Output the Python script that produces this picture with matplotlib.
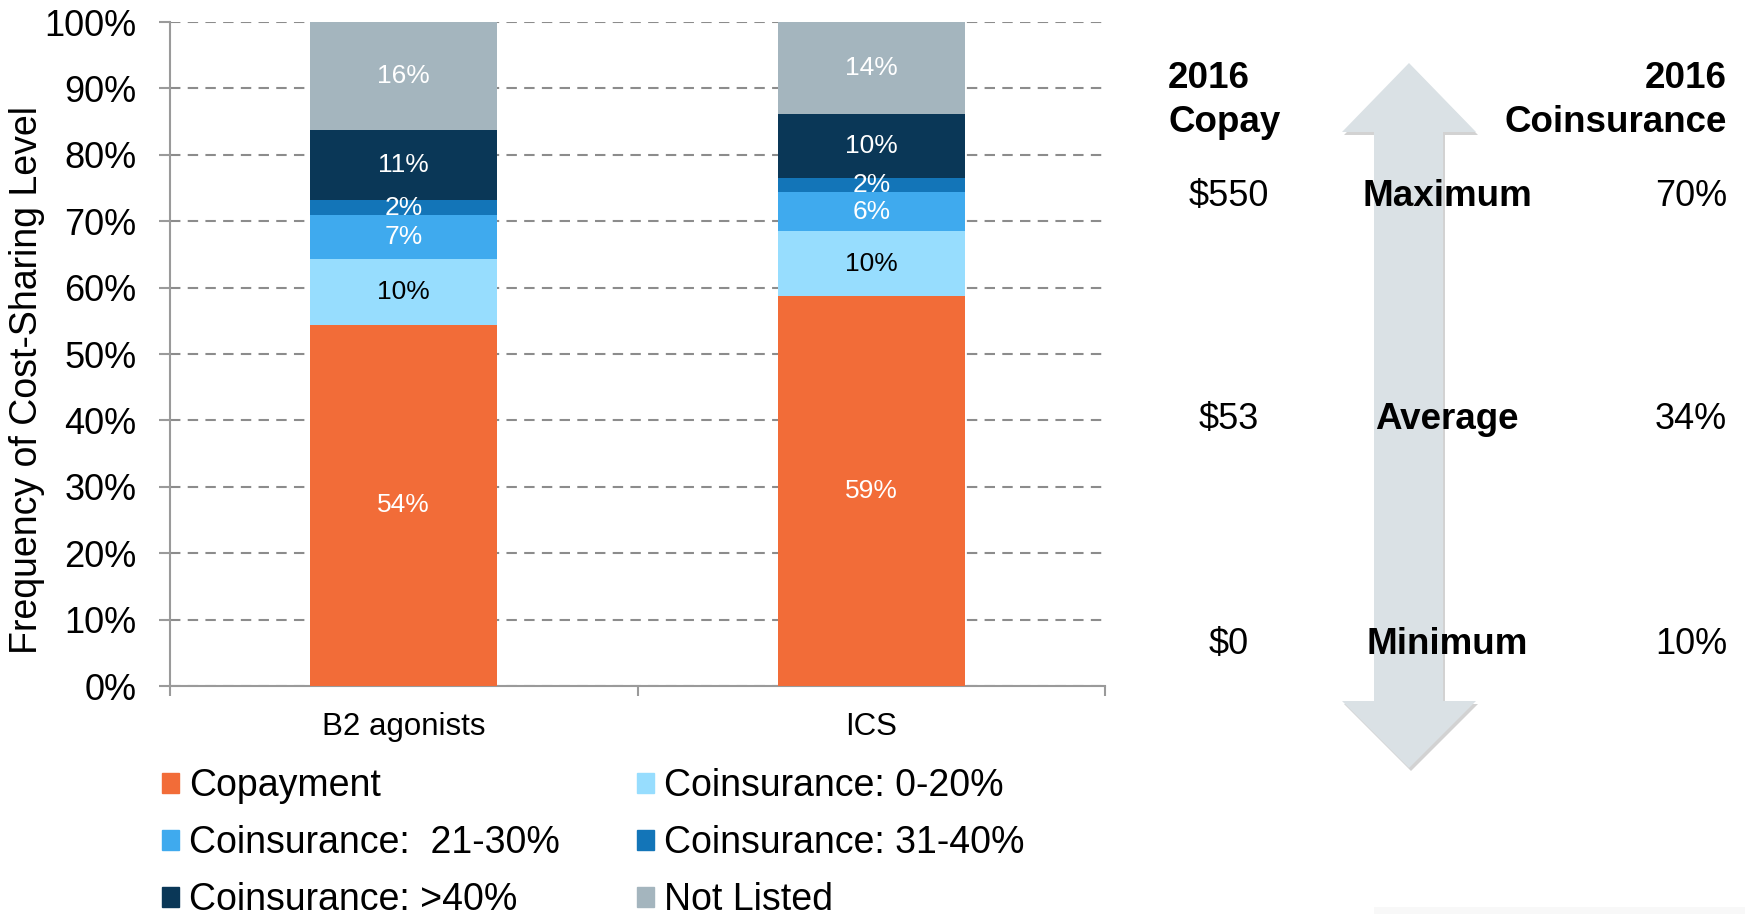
import numpy as np
import matplotlib
matplotlib.use('Agg')
import matplotlib.pyplot as plt
from matplotlib.patches import Patch, Polygon, Rectangle

plt.rcParams['font.family'] = ['Liberation Sans', 'DejaVu Sans']

# data
categories = ['B2 agonists', 'ICS']
series_names = ['Copayment', 'Coinsurance: 0-20%', 'Coinsurance:  21-30%',
                'Coinsurance: 31-40%', 'Coinsurance: >40%', 'Not Listed']
copayment = [54.4, 58.7]
coins_0_20 = [9.9, 9.8]
coins_21_30 = [6.6, 5.9]
coins_31_40 = [2.3, 2.1]
coins_over_40 = [10.6, 9.7]
not_listed = [16.2, 13.8]

copay_values = ['$550', '$53', '$0']
level_names = ['Maximum', 'Average', 'Minimum']
coins_values = ['70%', '34%', '10%']

colors = ['#F26C38', '#97DDFE', '#3FAAEE', '#1375B8', '#0A3757', '#A4B5BE']
label_colors = ['white', 'black', 'white', 'white', 'white', 'white']

W, H = 1745, 914
fig = plt.figure(figsize=(W / 100, H / 100), dpi=100)


def fx(px):
    return px / W


def fy(py):
    return 1 - py / H


ax = fig.add_axes([fx(170), fy(686), fx(935), 664 / H])

x = np.arange(len(categories))
series = [copayment, coins_0_20, coins_21_30, coins_31_40, coins_over_40, not_listed]
bottom = np.zeros(len(categories))
for vals, col, lcol in zip(series, colors, label_colors):
    vals = np.array(vals)
    ax.bar(x, vals, width=0.4, bottom=bottom, color=col, zorder=3)
    for xi, b, v in zip(x, bottom, vals):
        ax.text(xi, b + v / 2, f'{v:.0f}%', ha='center', va='center',
                color=lcol, fontsize=19, zorder=4)
    bottom += vals

ax.set_xlim(-0.5, 1.5)
ax.set_ylim(0, 100)
ax.set_yticks(np.arange(0, 101, 10))
ax.set_yticklabels([f'{t}%' for t in range(0, 101, 10)])
ax.set_xticks(x)
ax.set_xticklabels(categories)
ax.set_xticks([-0.5, 0.5, 1.5], minor=True)

spine_col = '#9a9a9a'
for s in ['top', 'right']:
    ax.spines[s].set_visible(False)
for s in ['left', 'bottom']:
    ax.spines[s].set_color(spine_col)
    ax.spines[s].set_linewidth(1.5)

ax.tick_params(axis='y', labelsize=26, length=8, width=1.5, color=spine_col, pad=16)
ax.tick_params(axis='x', which='major', labelsize=22.5, length=0, pad=19)
ax.tick_params(axis='x', which='minor', length=7.5, width=1.5, color=spine_col)

ax.yaxis.grid(True, linestyle=(0, (5, 3.5)), color='#8c8c8c', lw=1.5)
ax.set_axisbelow(True)

ax.set_ylabel('Frequency of Cost-Sharing Level', fontsize=27, va='center')
ax.yaxis.set_label_coords((27 - 170) / 935, 0.461)

# legend, row-major order as in the picture
handles = [Patch(color=c) for c in colors]
order = [0, 2, 4, 1, 3, 5]
fig.legend([handles[i] for i in order], [series_names[i] for i in order],
           ncol=2, loc='upper left', bbox_to_anchor=(fx(162), fy(768)),
           frameon=False, fontsize=27, handlelength=0.45, handleheight=0.45,
           handletextpad=0.27, columnspacing=2.05, labelspacing=0.56,
           borderpad=0, borderaxespad=0)

# double-headed arrow
arrow_pts = [(1409, 63), (1476, 132), (1443, 132), (1443, 701), (1476, 701),
             (1409, 768), (1342, 701), (1374, 701), (1374, 132), (1342, 132)]
shadow = Polygon([(fx(px + 2), fy(py + 3)) for px, py in arrow_pts],
                 closed=True, transform=fig.transFigure, color='#b5b5b5',
                 alpha=0.6, lw=0, zorder=1)
arrow = Polygon([(fx(px), fy(py)) for px, py in arrow_pts], closed=True,
                transform=fig.transFigure, color='#DAE1E5', lw=0, zorder=2)
fig.patches.extend([shadow, arrow])
fig.patches.append(Rectangle((fx(1374), 0), fx(371), 7 / H, transform=fig.transFigure,
                             color='#f8f8f8', lw=0, zorder=1))

fig.text(fx(1168), fy(78), '2016', fontsize=26.5, fontweight='bold', ha='left', va='center')
fig.text(fx(1168), fy(123), 'Copay', fontsize=26.5, fontweight='bold', ha='left', va='center')
fig.text(fx(1727), fy(78), '2016', fontsize=26.5, fontweight='bold', ha='right', va='center')
fig.text(fx(1727), fy(123), 'Coinsurance', fontsize=26.5, fontweight='bold', ha='right', va='center')

row_y = [197, 420, 644]
for yy, cv, name, pv in zip(row_y, copay_values, level_names, coins_values):
    fig.text(fx(1229), fy(yy), cv.replace('$', r'\$'), fontsize=26, ha='center', va='center', zorder=5)
    fig.text(fx(1447), fy(yy), name, fontsize=26.5, fontweight='bold', ha='center', va='center', zorder=5)
    fig.text(fx(1727), fy(yy), pv, fontsize=26, ha='right', va='center', zorder=5)

fig.savefig('out.png', dpi=100)
